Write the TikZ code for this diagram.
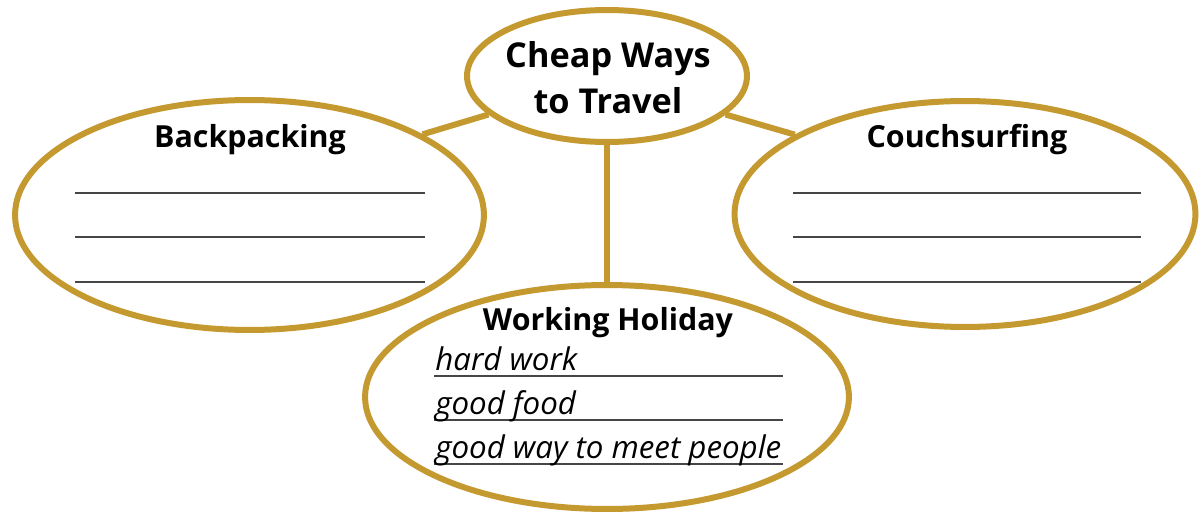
\documentclass[tikz,border=0pt]{standalone}
\usepackage{fontspec}
\setmainfont{Open Sans}
\newfontfamily\handfont{Open Sans}
\usetikzlibrary{shapes.geometric}

\definecolor{gold}{RGB}{196,154,48}
\definecolor{rulegray}{RGB}{70,70,70}

\begin{document}
\begin{tikzpicture}[x=0.02cm, y=-0.02cm,
  bubble/.style={ellipse, draw=gold, line width=0.12cm, inner sep=0pt},
  title/.style={anchor=base, inner sep=0pt, font=\bfseries\fontsize{17.3}{20}\selectfont},
  hand/.style={anchor=base west, inner sep=0pt, font=\handfont\itshape\fontsize{17.8}{20}\selectfont},
  writeline/.style={draw=rulegray, line width=0.04cm}]
  \useasboundingbox (0,0) rectangle (1201,517);
  \node[bubble, minimum width=5.6cm, minimum height=2.64cm] (cheap) at (607,76) {};
  \node[bubble, minimum width=9.38cm, minimum height=4.6cm] (bp) at (249.5,215) {};
  \node[bubble, minimum width=9.22cm, minimum height=4.52cm] (cs) at (965,214) {};
  \node[bubble, minimum width=9.68cm, minimum height=4.48cm] (wh) at (607,397) {};
  \path[draw=gold, line width=0.12cm]
  (cheap.198) edge (bp.25)
  (cheap.342) edge (cs.155)
  (cheap.south) edge (wh.north)
  ;
  \node[title, font=\bfseries\fontsize{19.5}{24}\selectfont] (cheap-a) at (608,68) {Cheap Ways};
  \node[title, font=\bfseries\fontsize{19.5}{24}\selectfont] (cheap-b) at (608,113) {to Travel};
  \node[title] (bp-t) at (250,148) {Backpacking};
  \node[title] (cs-t) at (967,148) {Couchsurfing};
  \node[title] (wh-t) at (608,330) {Working Holiday};
  \foreach \y in {193,237,282} {
    \path[writeline] (75,\y) -- (425,\y);
    \path[writeline] (793,\y) -- (1141,\y);
  }
  \foreach \y in {376,420,464}
    \path[writeline] (434,\y) -- (783,\y);
  \node[hand] (wh-1) at (435,370) {hard work};
  \node[hand] (wh-2) at (435,414) {good food};
  \node[hand] (wh-3) at (435,458) {good way to meet people};
\end{tikzpicture}
\end{document}
